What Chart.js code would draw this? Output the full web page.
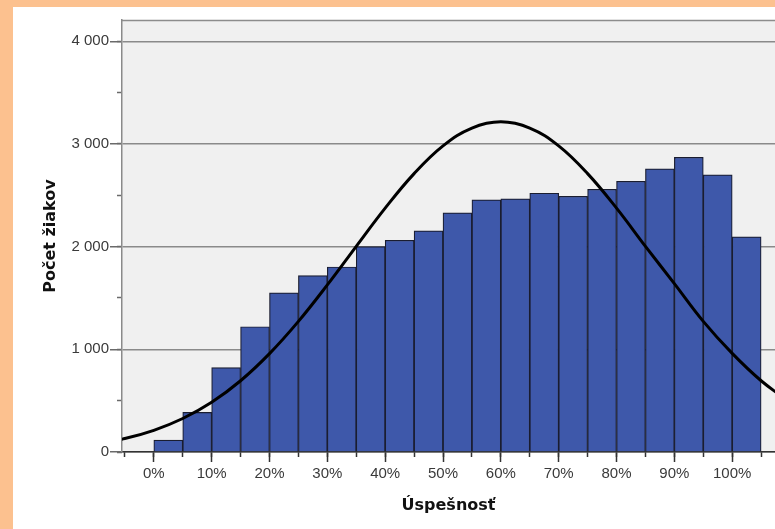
<!DOCTYPE html>
<html>
<head>
<meta charset="utf-8">
<script src="https://cdn.jsdelivr.net/npm/chart.js@4"></script>
<style>
  html, body { margin: 0; padding: 0; background: #fcc18f; overflow: hidden; }
  #panel { position: absolute; left: 13px; top: 7px; right: 0; bottom: 0; background: #fff; }
  #chart { position: absolute; left: 0; top: 0; }
</style>
</head>
<body>
<div id="panel"></div>
<canvas id="chart" width="775" height="529"></canvas>
<script>
// Histogram of pupils' success rate, 5 % bins (bin centres), plus fitted normal curve.
const binCentres = [2.5, 7.5, 12.5, 17.5, 22.5, 27.5, 32.5, 37.5, 42.5, 47.5, 52.5,
  57.5, 62.5, 67.5, 72.5, 77.5, 82.5, 87.5, 92.5, 97.5, 102.5];
const pupilCounts = [116, 386, 821, 1220, 1549, 1717, 1802, 2000, 2062, 2153, 2329,
  2456, 2466, 2520, 2490, 2558, 2636, 2757, 2870, 2698, 2096];

// Normal curve, every 5 %.
const curveX = [-10, -5, 0, 5, 10, 15, 20, 25, 30, 35, 40, 45, 50, 55, 60,
  65, 70, 75, 80, 85, 90, 95, 100, 105, 110];
const curveY = [79, 131, 211, 326, 484, 694, 958, 1272, 1627, 2003, 2375, 2711, 2981, 3155, 3215,
  3155, 2981, 2711, 2375, 2003, 1640, 1272, 960, 694, 484];

// tick positions
const xLabelTicks = [0, 10, 20, 30, 40, 50, 60, 70, 80, 90, 100];
const xMinorTicks = [-5, 0, 5, 10, 15, 20, 25, 30, 35, 40, 45, 50, 55, 60, 65, 70, 75,
  80, 85, 90, 95, 100, 105];
const yLabelTicks = [0, 1000, 2000, 3000, 4000];
const yMinorTicks = [0, 500, 1000, 1500, 2000, 2500, 3000, 3500, 4000];

const yTitle = 'Počet žiakov';
const xTitle = 'Úspešnosť';

const X_MIN = -5.5, X_MAX = 107.4, Y_MAX = 4207;
const TICK_FONT = { family: 'Liberation Sans, Arial, sans-serif', size: 15 };
const TITLE_FONT = { family: 'DejaVu Sans, Verdana, sans-serif', size: 16, weight: 'bold' };

function spaced(v) {
  return String(v).replace(/\B(?=(\d{3})+(?!\d))/g, ' ');
}
const setTicks = (vals) => (s) => { s.ticks = vals.map((value) => ({ value })); };

// plot background + top frame line
const plotBg = {
  id: 'plotBg',
  beforeDraw(chart) {
    const { ctx, chartArea: a } = chart;
    ctx.save();
    ctx.fillStyle = '#f0f0f0';
    ctx.fillRect(a.left, a.top, a.right - a.left, a.bottom - a.top);
    ctx.strokeStyle = '#8c8c8c';
    ctx.lineWidth = 1.5;
    ctx.beginPath();
    ctx.moveTo(a.left, a.top + 0.5);
    ctx.lineTo(a.right, a.top + 0.5);
    ctx.stroke();
    ctx.restore();
  },
};

new Chart(document.getElementById('chart'), {
  type: 'bar',
  data: {
    datasets: [
      {
        type: 'line',
        data: curveX.map((x, i) => ({ x, y: curveY[i] })),
        borderColor: '#000',
        borderWidth: 3,
        pointRadius: 0,
        tension: 0.4,
        fill: false,
        clip: 0,
        order: 0,
      },
      {
        data: binCentres.map((x, i) => ({ x, y: pupilCounts[i] })),
        backgroundColor: '#3e58aa',
        borderColor: '#1a1d30',
        borderWidth: 1.2,
        barPercentage: 1,
        categoryPercentage: 1,
        order: 1,
      },
    ],
  },
  options: {
    responsive: false,
    animation: false,
    layout: { padding: { top: 20, right: 0, bottom: 0, left: 0 } },
    plugins: { legend: { display: false }, tooltip: { enabled: false } },
    scales: {
      x: {
        type: 'linear', position: 'bottom', weight: 2,
        min: X_MIN, max: X_MAX, offset: false,
        afterBuildTicks: setTicks(xLabelTicks),
        afterFit(s) { s.height = 77; },
        ticks: {
          padding: 3, color: '#3a3a3a', font: TICK_FONT, maxRotation: 0, autoSkip: false,
          callback: (v) => v + '%',
        },
        grid: { drawOnChartArea: false, offset: false, tickLength: 10, tickColor: '#333', tickWidth: 1.5 },
        border: { display: true, color: '#333', width: 1.5 },
        title: { display: true, text: xTitle, color: '#111', font: TITLE_FONT, padding: { top: 0, bottom: 14 } },
      },
      x2: {
        type: 'linear', position: 'bottom', weight: 0,
        min: X_MIN, max: X_MAX, offset: false,
        afterBuildTicks: setTicks(xMinorTicks),
        afterFit(s) { s.height = 0; },
        ticks: { display: false, autoSkip: false },
        grid: { drawOnChartArea: false, offset: false, tickLength: 5, tickColor: '#333', tickWidth: 1.5 },
        border: { display: false },
      },
      y: {
        type: 'linear', position: 'left', weight: 2,
        min: 0, max: Y_MAX,
        afterBuildTicks: setTicks(yLabelTicks),
        afterFit(s) { s.width = 122; },
        ticks: {
          padding: 1, color: '#3a3a3a', font: TICK_FONT, autoSkip: false,
          callback: (v) => spaced(v),
        },
        grid: { color: '#8a8a8a', lineWidth: 1.5, tickLength: 12, tickColor: '#6a6a6a', tickWidth: 1.5 },
        border: { display: true, color: '#8a8a8a', width: 1.5 },
        title: { display: true, text: yTitle, color: '#111', font: TITLE_FONT, padding: { top: 41, bottom: 0 } },
      },
      y2: {
        type: 'linear', position: 'left', weight: 0,
        min: 0, max: Y_MAX,
        afterBuildTicks: setTicks(yMinorTicks),
        afterFit(s) { s.width = 0; },
        ticks: { display: false, autoSkip: false },
        grid: { drawOnChartArea: false, tickLength: 5, tickColor: '#6a6a6a', tickWidth: 1.5 },
        border: { display: false },
      },
    },
  },
  plugins: [plotBg],
});
</script>
</body>
</html>
